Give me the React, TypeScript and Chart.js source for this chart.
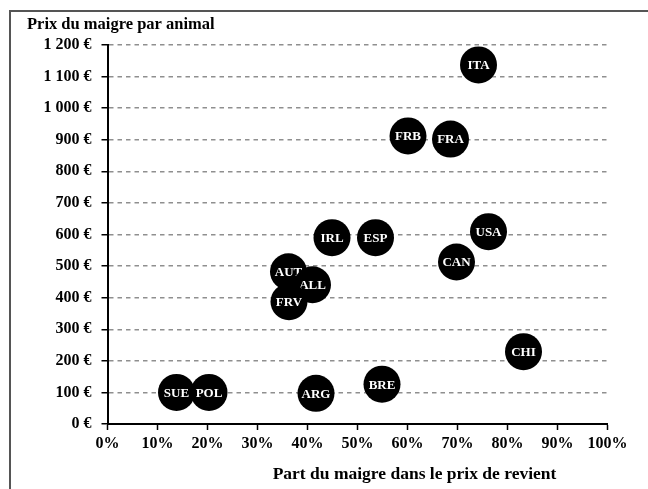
import React, { useEffect, useRef } from "react";
import { Chart, registerables } from "chart.js";

Chart.register(...registerables);

const countries = ["ITA", "FRB", "FRA", "USA", "IRL", "ESP", "CAN", "AUT", "ALL", "FRV", "CHI", "BRE", "SUE", "POL", "ARG"];
const shares = [74.2, 60.1, 68.6, 76.2, 44.9, 53.6, 69.8, 36.2, 41.0, 36.3, 83.2, 54.9, 13.8, 20.3, 41.7];
const prices = [1137, 912, 902, 609, 590, 590, 513, 482, 441, 387, 229, 126, 100, 100, 97];

const xTickValues = [0, 10, 20, 30, 40, 50, 60, 70, 80, 90, 100];
const yTickValues = [0, 100, 200, 300, 400, 500, 600, 700, 800, 900, 1000, 1100, 1200];

const yTitle = "Prix du maigre par animal";
const xTitle = "Part du maigre dans le prix de revient";

const FONT = "'Liberation Serif', 'Times New Roman', serif";

function euro(v: number): string {
  if (v >= 1000) {
    const th = Math.floor(v / 1000);
    const rest = String(v % 1000).padStart(3, "0");
    return `${th} ${rest} €`;
  }
  return `${v} €`;
}

const labelPlugin = {
  id: "pointLabels",
  afterDatasetDraw(chart: any, args: any) {
    const meta = args.meta;
    const el = meta.data[0];
    if (!el) return;
    const ctx = chart.ctx;
    ctx.save();
    ctx.fillStyle = "#ffffff";
    ctx.font = `bold 13px ${FONT}`;
    ctx.textAlign = "center";
    ctx.textBaseline = "middle";
    ctx.fillText(countries[args.index], el.x, el.y + 1);
    ctx.restore();
  },
};

const titlePlugin = {
  id: "axisTitles",
  afterDraw(chart: any) {
    const ctx = chart.ctx;
    const area = chart.chartArea;
    ctx.save();
    ctx.fillStyle = "#000";
    ctx.font = `bold 16.5px ${FONT}`;
    ctx.textBaseline = "middle";
    ctx.textAlign = "left";
    ctx.fillText(yTitle, 27, 25);
    ctx.font = `bold 17.5px ${FONT}`;
    ctx.textAlign = "center";
    ctx.fillText(xTitle, (area.left + area.right) / 2 + 57, area.bottom + 50);
    ctx.restore();
  },
};

export default function App() {
  const ref = useRef<HTMLCanvasElement | null>(null);

  useEffect(() => {
    if (!ref.current) return;
    const n = countries.length;
    const datasets = countries.map((c, i) => ({
      label: c,
      data: [{ x: shares[i], y: prices[i] }],
      backgroundColor: "#000",
      borderColor: "#000",
      borderWidth: 0,
      pointRadius: 18.5,
      pointHoverRadius: 18.5,
      showLine: false,
      order: n - i,
    }));
    const chart = new Chart(ref.current, {
      type: "scatter",
      data: { datasets },
      plugins: [labelPlugin, titlePlugin],
      options: {
        animation: false,
        responsive: false,
        maintainAspectRatio: false,
        events: [],
        layout: { padding: { left: 0, top: 45, right: 40.5, bottom: 0 } },
        plugins: { legend: { display: false }, tooltip: { enabled: false } },
        scales: {
          x: {
            type: "linear",
            min: 0,
            max: 100,
            afterBuildTicks: (s: any) => {
              s.ticks = xTickValues.map((v) => ({ value: v }));
            },
            afterFit: (s: any) => {
              s.height = 65;
            },
            ticks: {
              callback: (v: any) => `${v}%`,
              font: { family: FONT, size: 16, weight: "bold" },
              color: "#000",
              padding: 4,
              maxRotation: 0,
              autoSkip: false,
            },
            grid: {
              drawOnChartArea: false,
              drawTicks: true,
              tickLength: 6,
              tickColor: "#000",
              tickWidth: 1.5,
            },
            border: { display: true, color: "#000", width: 2 },
          },
          y: {
            type: "linear",
            min: 0,
            max: 1200,
            afterBuildTicks: (s: any) => {
              s.ticks = yTickValues.map((v) => ({ value: v }));
            },
            afterFit: (s: any) => {
              s.width = 107.5;
            },
            ticks: {
              callback: (v: any) => euro(Number(v)),
              font: { family: FONT, size: 16, weight: "bold" },
              color: "#000",
              padding: 10,
              autoSkip: false,
            },
            grid: {
              color: "#8f8f8f",
              lineWidth: 1.5,
              drawTicks: true,
              tickLength: 6,
              tickColor: "#000",
              tickWidth: 1.5,
              tickBorderDash: [],
            },
            border: { display: true, color: "#000", width: 2, dash: [4.5, 4] },
          },
        },
      },
    } as any);
    return () => chart.destroy();
  }, []);

  return (
    <div
      style={{
        position: "fixed",
        left: 0,
        top: 0,
        width: 648,
        height: 489,
        overflow: "hidden",
        background: "#fff",
      }}
    >
      <div
        style={{
          position: "absolute",
          left: 9,
          top: 10,
          width: 800,
          height: 800,
          borderLeft: "2px solid #555",
          borderTop: "2px solid #555",
        }}
      />
      <canvas
        ref={ref}
        width={648}
        height={489}
        style={{ position: "absolute", left: 0, top: 0, width: 648, height: 489 }}
      />
    </div>
  );
}
